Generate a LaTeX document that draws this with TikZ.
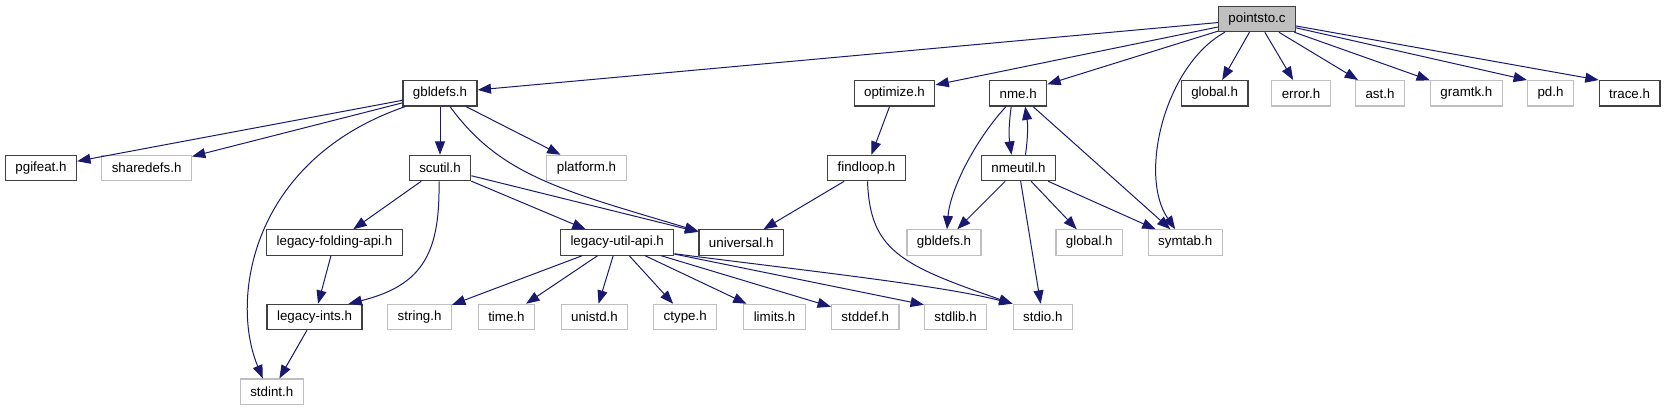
\documentclass[tikz,border=0pt]{standalone}
\usepackage{fontspec}
\setmainfont{Liberation Sans}
\usetikzlibrary{arrows.meta,calc}
\definecolor{dxedge}{HTML}{191970}
\definecolor{dxgray}{HTML}{BFBFBF}
\definecolor{dxframe}{HTML}{404040}

\begin{document}
\begin{tikzpicture}[
  x=0.75pt, y=-0.75pt,
  >={Triangle[length=10pt,width=7.5pt]},
  font=\fontsize{10pt}{12pt}\selectfont,
  hdr/.style={draw=dxframe, line width=0.9pt, minimum height=19pt,
    inner xsep=7.5pt, inner ysep=0pt, fill=white},
  sys/.style={hdr, draw=dxgray},
  src/.style={hdr, fill=dxgray},
  dep/.style={->, draw=dxedge, line width=0.75pt},
]
\useasboundingbox (0,0) rectangle (1666,411);

\node[src] (pointsto) at (1257,19) {pointsto.c};

\node[hdr] (gbldefs)  at (440,93.3)    {gbldefs.h};
\node[hdr] (optimize) at (894.5,93.3)  {optimize.h};
\node[hdr] (nme)      at (1018.2,93.3) {nme.h};
\node[hdr] (global)   at (1214.6,93.3) {global.h};
\node[sys] (error)    at (1301,93.3)   {error.h};
\node[sys] (ast)      at (1380,93.3)   {ast.h};
\node[sys] (gramtk)   at (1466.4,93.3) {gramtk.h};
\node[sys] (pd)       at (1550.5,93.3) {pd.h};
\node[hdr] (trace)    at (1629.6,93.3) {trace.h};

\node[hdr] (pgifeat)   at (41,168)     {pgifeat.h};
\node[sys] (sharedefs) at (146.6,168)  {sharedefs.h};
\node[hdr] (scutil)    at (440,168)    {scutil.h};
\node[sys] (platform)  at (586.5,168)  {platform.h};
\node[hdr] (findloop)  at (866.5,168)  {findloop.h};
\node[hdr] (nmeutil)   at (1018.5,168) {nmeutil.h};

\node[hdr] (folding)   at (334.5,242.5)  {legacy-folding-api.h};
\node[hdr] (utilapi)   at (617.2,242.5)  {legacy-util-api.h};
\node[hdr] (universal) at (741.2,242.5)  {universal.h};
\node[sys] (gbldefsx)  at (944,242.5)    {gbldefs.h};
\node[sys] (globalx)   at (1089.3,242.5) {global.h};
\node[sys] (symtab)    at (1185.2,242.5) {symtab.h};

\node[hdr] (ints)   at (314.5,317)  {legacy-ints.h};
\node[sys] (string) at (419.6,317)  {string.h};
\node[sys] (time)   at (506.4,317)  {time.h};
\node[sys] (unistd) at (594.5,317)  {unistd.h};
\node[sys] (ctype)  at (685.2,317)  {ctype.h};
\node[sys] (limits) at (774.5,317)  {limits.h};
\node[sys] (stddef) at (865.2,317)  {stddef.h};
\node[sys] (stdlib) at (955.6,317)  {stdlib.h};
\node[sys] (stdio)  at (1042.8,317) {stdio.h};

\node[sys] (stdint) at (271.8,391.7) {stdint.h};

\draw[dep] (pointsto) -- (gbldefs);
\draw[dep] (pointsto) -- (optimize);
\draw[dep] (pointsto) -- (nme);
\draw[dep] ($(pointsto.south west)+(7,0)$) .. controls (1165,65) and (1138,175)
  .. ($(symtab.north)+(-10,0)$);
\draw[dep] (pointsto) -- (global);
\draw[dep] (pointsto) -- (error);
\draw[dep] (pointsto) -- (ast);
\draw[dep] (pointsto) -- (gramtk);
\draw[dep] (pointsto) -- (pd.north west);
\draw[dep] (pointsto) -- (trace.north west);

\draw[dep] (gbldefs) -- (pgifeat);
\draw[dep] (gbldefs) -- (sharedefs);
\draw[dep] ($(gbldefs.south west)+(3,0)$) .. controls (250,160) and (230,300)
  .. ($(stdint.north)+(-9,0)$);
\draw[dep] (gbldefs) -- (scutil);
\draw[dep] ($(gbldefs.south)+(10,0)$) .. controls (500,175) and (560,190)
  .. ($(universal.north west)+(0,2)$);
\draw[dep] (gbldefs) -- (platform);

\draw[dep] (scutil) -- (folding);
\draw[dep] ($(scutil.south)+(-1,0)$) .. controls (440,250) and (425,285)
  .. ($(ints.north east)+(-14,0)$);
\draw[dep] (scutil) -- (utilapi);
\draw[dep] (scutil) -- (universal);

\draw[dep] (folding) -- (ints);
\draw[dep] (ints) -- (stdint);

\draw[dep] (utilapi) -- (string);
\draw[dep] (utilapi) -- (time);
\draw[dep] (utilapi) -- (unistd);
\draw[dep] (utilapi) -- (ctype);
\draw[dep] (utilapi) -- (limits);
\draw[dep] (utilapi) -- (stddef);
\draw[dep] (utilapi) -- ($(stdlib.north west)+(0,1)$);
\draw[dep] ($(utilapi.south east)+(0,-2)$) .. controls (800,270) and (940,285)
  .. (stdio.north west);

\draw[dep] (optimize) -- (findloop);
\draw[dep] (findloop) -- (universal);
\draw[dep] ($(findloop.south)+(1,0)$) .. controls (870,250) and (900,265)
  .. (stdio.north west);

\draw[dep] ($(nme.south)+(-7,0)$) to[bend right=8] ($(nmeutil.north)+(-7,0)$);
\draw[dep] ($(nme.south west)+(17,0)$) .. controls (975,140) and (950,190)
  .. ($(gbldefsx.north)+(3,0)$);
\draw[dep] (nme) -- (symtab);

\draw[dep] ($(nmeutil.north)+(7,0)$) to[bend right=8] ($(nme.south)+(7,0)$);
\draw[dep] (nmeutil) -- (gbldefsx);
\draw[dep] (nmeutil) -- (globalx);
\draw[dep] (nmeutil) -- (symtab);
\draw[dep] (nmeutil) -- (stdio);
\end{tikzpicture}
\end{document}
